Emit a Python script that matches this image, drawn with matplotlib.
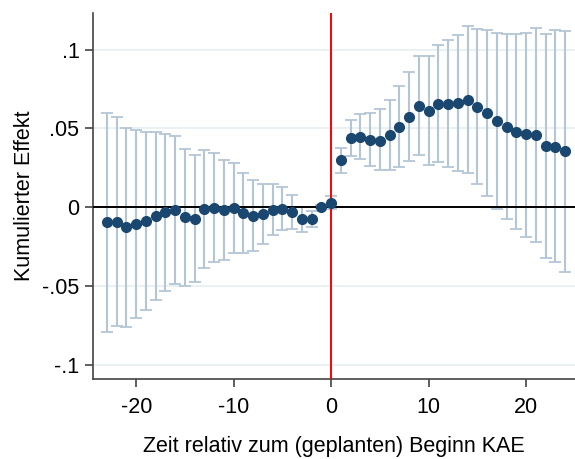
import matplotlib
matplotlib.use("Agg")
import matplotlib.pyplot as plt
import numpy as np

plt.rcParams['font.family'] = ['Liberation Sans', 'DejaVu Sans']

# Relative time (months)
periods = list(range(-23, 25))

# Point estimates
effect = [
    -0.0097, -0.0095, -0.0127, -0.0108, -0.0085, -0.0055, -0.0032, -0.0019,
    -0.0063, -0.0076, -0.0013, -0.0004, -0.0019, -0.0002, -0.0040, -0.0053,
    -0.0046, -0.0017, -0.0011, -0.0030, -0.0078, -0.0076, 0.0002, 0.0027,
    0.0297, 0.0438, 0.0446, 0.0428, 0.0423, 0.0457, 0.0510, 0.0573,
    0.0641, 0.0612, 0.0656, 0.0656, 0.0658, 0.0680, 0.0637, 0.0595,
    0.0544, 0.0510, 0.0476, 0.0462, 0.0457, 0.0389, 0.0385, 0.0354,
]

# Upper confidence bounds
ci_upper = [
    0.0597, 0.0572, 0.0504, 0.0491, 0.0480, 0.0476, 0.0466, 0.0451,
    0.0370, 0.0330, 0.0360, 0.0341, 0.0297, 0.0281, 0.0214, 0.0170,
    0.0146, 0.0144, 0.0125, 0.0078, 0.0003, -0.0025, 0.0012, 0.0068,
    0.0373, 0.0551, 0.0589, 0.0595, 0.0622, 0.0681, 0.0766, 0.0859,
    0.0957, 0.0957, 0.1029, 0.1058, 0.1092, 0.1147, 0.1130, 0.1122,
    0.1103, 0.1099, 0.1099, 0.1107, 0.1135, 0.1099, 0.1124, 0.1120,
]

# Lower confidence bounds
ci_lower = [
    -0.0794, -0.0756, -0.0760, -0.0705, -0.0650, -0.0589, -0.0533, -0.0485,
    -0.0500, -0.0476, -0.0383, -0.0349, -0.0332, -0.0288, -0.0292, -0.0275,
    -0.0235, -0.0178, -0.0146, -0.0138, -0.0157, -0.0123, -0.0008, -0.0010,
    0.0218, 0.0326, 0.0307, 0.0260, 0.0233, 0.0235, 0.0258, 0.0292,
    0.0328, 0.0269, 0.0288, 0.0256, 0.0229, 0.0218, 0.0144, 0.0072,
    -0.0011, -0.0074, -0.0140, -0.0190, -0.0224, -0.0320, -0.0349, -0.0410,
]

yticks = [-0.1, -0.05, 0, 0.05, 0.1]
ytick_labels = ["-.1", "-.05", "0", ".05", ".1"]
xticks = [-20, -10, 0, 10, 20]
xtick_labels = ["-20", "-10", "0", "10", "20"]

x = np.array(periods)
y = np.array(effect)
lo = np.array(ci_lower)
hi = np.array(ci_upper)

fig = plt.figure(figsize=(5.75, 4.59), dpi=100)
ax = fig.add_axes([0.1623, 0.1743, 0.8377, 0.7967])

for yt in yticks:
    ax.axhline(yt, color='#e8f0f2', lw=1.3, zorder=0)

ax.errorbar(x, y, yerr=[y - lo, hi - y], fmt='none', ecolor='#b4c6d6',
            elinewidth=1.5, capsize=4, capthick=1.3, zorder=2)
ax.axhline(0, color='black', lw=1.4, zorder=3)
ax.axvline(0, color='#ff0000', lw=1.4, zorder=3)
ax.plot(x, y, 'o', color='#1a476f', markersize=7, zorder=4)

ax.set_xlim(-24.4, 25.0)
ax.set_ylim(-0.109, 0.123)
ax.set_yticks(yticks)
ax.set_yticklabels(ytick_labels)
ax.set_xticks(xticks)
ax.set_xticklabels(xtick_labels)

for side in ['top', 'right']:
    ax.spines[side].set_visible(False)
for side in ['left', 'bottom']:
    ax.spines[side].set_color('#444444')
    ax.spines[side].set_linewidth(1.2)

ax.tick_params(axis='both', direction='out', length=6, width=1.2,
               color='#444444', labelsize=15.5, labelcolor='black')
ax.tick_params(axis='y', pad=4)
ax.tick_params(axis='x', pad=7)

ax.set_ylabel('Kumulierter Effekt', fontsize=15.5, labelpad=5)
ax.set_xlabel('Zeit relativ zum (geplanten) Beginn KAE', fontsize=15.5, labelpad=13)

fig.savefig('out.png', dpi=100)
